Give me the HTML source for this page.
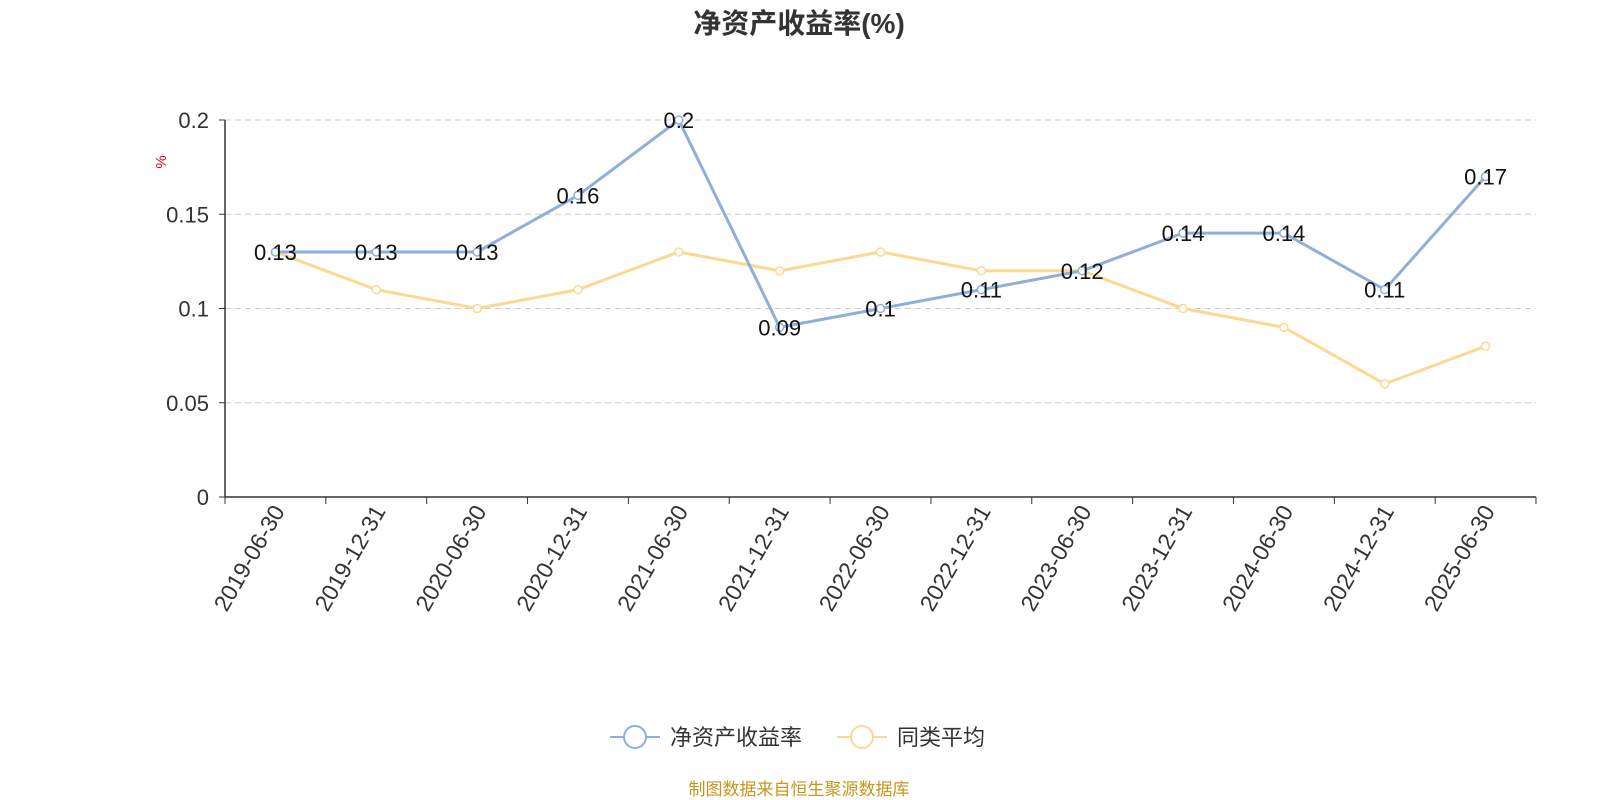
<!DOCTYPE html>
<html><head><meta charset="utf-8"><style>
body{margin:0;background:#fff;}
svg{display:block;font-family:"Liberation Sans","Noto Sans CJK SC",sans-serif;}
</style></head><body>
<svg id="chart" width="1600" height="800">
<text x="799" y="33" text-anchor="middle" font-size="28" font-weight="bold" fill="#333">净资产收益率(%)</text>
<text x="0" y="0" transform="translate(166,162) rotate(-90)" text-anchor="middle" font-size="15" fill="#e00">%</text>
<g id="grid"></g><g id="axes"></g><g id="series"></g>
<g>
<g>
<line x1="610" y1="737" x2="660" y2="737" stroke="#8eaedb" stroke-width="2"/>
<circle cx="635" cy="737" r="11" fill="#fff" stroke="#8eaedb" stroke-width="2"/>
<text x="670" y="745" font-size="22" fill="#333">净资产收益率</text></g>
<g>
<line x1="837" y1="737" x2="887" y2="737" stroke="#fcd993" stroke-width="2"/>
<circle cx="862" cy="737" r="11" fill="#fff" stroke="#fcd993" stroke-width="2"/>
<text x="897" y="745" font-size="22" fill="#333">同类平均</text></g>
</g>
<text x="799" y="795" text-anchor="middle" font-size="17" fill="#c8961e">制图数据来自恒生聚源数据库</text>
</svg>
<script>
const categories=["2019-06-30","2019-12-31","2020-06-30","2020-12-31","2021-06-30","2021-12-31","2022-06-30","2022-12-31","2023-06-30","2023-12-31","2024-06-30","2024-12-31","2025-06-30"];
const roeValues=[0.13,0.13,0.13,0.16,0.2,0.09,0.1,0.11,0.12,0.14,0.14,0.11,0.17];
const peerValues=[0.13,0.11,0.10,0.11,0.13,0.12,0.13,0.12,0.12,0.10,0.09,0.06,0.08];
const yTicks=[0,0.05,0.1,0.15,0.2];
const yTickLabels=["0","0.05","0.1","0.15","0.2"];
const NS="http://www.w3.org/2000/svg";
const X0=225,X1=1536,Y0=497,Y1=120,YMAX=0.2;
const band=(X1-X0)/categories.length;
const xs=i=>X0+band*(i+0.5);
const ys=v=>Y0-(v/YMAX)*(Y0-Y1);
function mk(tag,attrs,parent,txt){const e=document.createElementNS(NS,tag);for(const k in attrs)e.setAttribute(k,attrs[k]);if(txt!==undefined)e.textContent=txt;parent.appendChild(e);return e;}
const grid=document.getElementById('grid'),axes=document.getElementById('axes'),series=document.getElementById('series');
yTicks.forEach((t,i)=>{
 if(t>0){const g=mk('line',{x1:X0,x2:X1,y1:ys(t),y2:ys(t),stroke:'#ccc','stroke-dasharray':'6,4'},grid);
 
 }
 const tk=mk('line',{x1:X0-6,x2:X0,y1:ys(t),y2:ys(t),stroke:'#333'},axes);
 
 
 const l=mk('text',{x:X0-16,y:ys(t)+8,'text-anchor':'end','font-size':22,fill:'#333'},axes,yTickLabels[i]);
 
 
});
const ya=mk('line',{x1:X0,x2:X0,y1:Y1,y2:Y0,stroke:'#333','stroke-width':1.5},axes);


const xa=mk('line',{x1:X0,x2:X1,y1:Y0,y2:Y0,stroke:'#333','stroke-width':1.5},axes);


for(let i=0;i<=categories.length;i++){
 const tk=mk('line',{x1:X0+band*i,x2:X0+band*i,y1:Y0,y2:Y0+7,stroke:'#333'},axes);
 
 
}
categories.forEach((c,i)=>{
 const x=xs(i)+10,y=Y0+14;
 const t=mk('text',{x:x,y:y,transform:`rotate(-60 ${x} ${y})`,'text-anchor':'end','font-size':23,fill:'#333'},axes,c);
 
 
});
function drawSeries(vals,color,name){
 const p=mk('polyline',{points:vals.map((v,i)=>xs(i)+','+ys(v)).join(' '),fill:'none',stroke:color,'stroke-width':3},series);
 
 
 vals.forEach((v,i)=>{
  const c=mk('circle',{cx:xs(i),cy:ys(v),r:4,fill:'#fff',stroke:color,'stroke-width':1.5},series);
  
  
 });
}
drawSeries(peerValues,'#fcd993','peer-average');
drawSeries(roeValues,'#8eaedb','roe');
roeValues.forEach((v,i)=>{
 const t=mk('text',{x:xs(i),y:ys(v)+8,'text-anchor':'middle','font-size':22,fill:'#111'},series,String(v));
 
 
});
</script>
</body></html>
